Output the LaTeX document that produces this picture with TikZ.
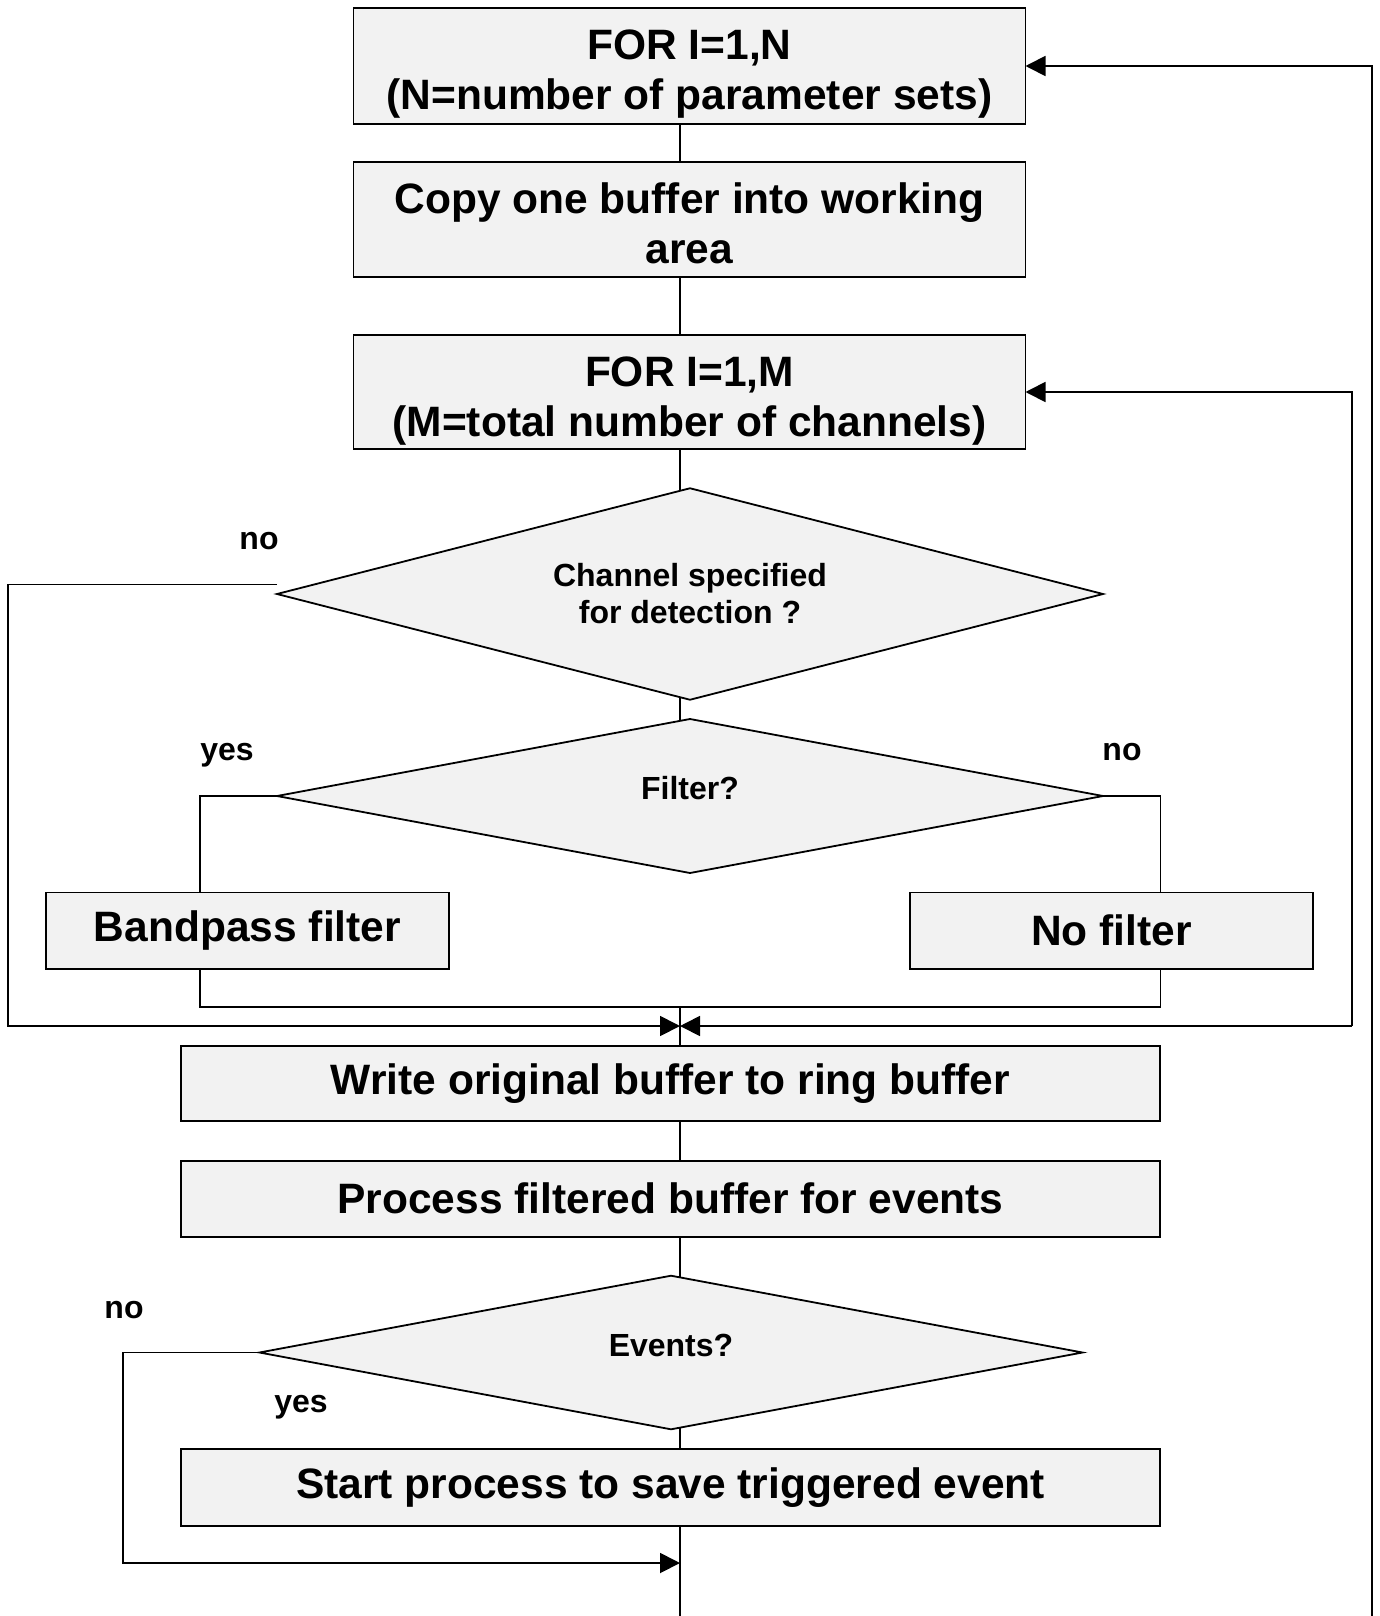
\documentclass[tikz,border=0pt]{standalone}
\usepackage{fontspec}
\setmainfont{Liberation Sans}
\usetikzlibrary{shapes.geometric,arrows.meta,calc,backgrounds}
\definecolor{boxgray}{HTML}{F2F2F2}
\begin{document}
\begin{tikzpicture}[x=0.5pt,y=-0.5pt,
  box/.style={draw,line width=0.9pt,fill=boxgray,inner sep=0pt,outer sep=0pt,align=center,font=\bfseries\fontsize{21.25}{24.75}\selectfont},
  boxtxt/.style={inner sep=0pt,align=center,font=\bfseries\fontsize{21.25}{24.75}\selectfont},
  dec/.style={diamond,draw,line width=0.9pt,fill=boxgray,inner sep=0pt,outer sep=0pt,align=center,font=\bfseries\fontsize{16}{18.5}\selectfont},
  lbl/.style={font=\bfseries\fontsize{16}{18.5}\selectfont,inner sep=0pt},
  conn/.style={line width=0.9pt},
  arr/.style={conn,-{Triangle[length=10pt,width=10pt]}}]
\useasboundingbox (0,0) rectangle (1380,1616);

\node[box,minimum width=336pt,minimum height=58pt] (b1) at (689.5,66) {};
\node[boxtxt] (t1) at ($(b1.center)+(0,8)$) {FOR I=1,N\\(N=number of parameter sets)};
\node[box,minimum width=336pt,minimum height=57.5pt] (b2) at (689.5,219.5) {};
\node[boxtxt] (t2) at ($(b2.center)+(0,4)$) {Copy one buffer into working\\area};
\node[box,minimum width=336pt,minimum height=57pt] (b3) at (689.5,392) {};
\node[boxtxt] (t3) at ($(b3.center)+(0,9)$) {FOR I=1,M\\(M=total number of channels)};
\node[dec,shape aspect=3.9,minimum width=413pt,minimum height=105.75pt] (d1) at (690,594) {Channel specified\\for detection ?};
\node[dec,shape aspect=5.3,minimum width=413pt,minimum height=77pt] (d2) at (690,796) {\raisebox{8pt}{Filter?}};
\node[box,minimum width=201.5pt,minimum height=38.25pt] (bp) at (247.5,930.75) {Bandpass filter};
\node[box,minimum width=201.5pt,minimum height=38.25pt] (nf) at (1111.5,930.75) {\raisebox{1pt}{No filter}};
\node[box,minimum width=489.5pt,minimum height=37.5pt] (b4) at (670.5,1083.5) {\raisebox{-1.5pt}{Write original buffer to ring buffer}};
\node[box,minimum width=489.5pt,minimum height=38pt] (b5) at (670.5,1199) {\raisebox{1pt}{Process filtered buffer for events}};
\node[dec,shape aspect=5.3,minimum width=411.5pt,minimum height=76.8pt] (d3) at (671,1352.5) {\raisebox{7pt}{Events?}};
\node[box,minimum width=489.5pt,minimum height=38.5pt] (b6) at (670.5,1487.5) {\raisebox{-1pt}{Start process to save triggered event}};

\node[lbl] (l1) at (259,541) {no};
\node[lbl] (l2) at (227,755) {yes};
\node[lbl] (l3) at (1122,752) {no};
\node[lbl] (l4) at (124,1310) {no};
\node[lbl] (l5) at (301,1407) {yes};

\begin{pgfonlayer}{background}
\coordinate (mx) at (680,0);
\coordinate (bpx) at (200,0);
\coordinate (nfx) at (1160.5,0);
\coordinate (lx) at (8,0);
\coordinate (rx) at (1352,0);
\coordinate (ox) at (1372,0);
\coordinate (ex) at (123,0);
\coordinate (jy) at (0,1006.7);
\coordinate (ay) at (0,1026);
\coordinate (ey) at (0,1563);
\coordinate (bot) at (0,1616);
% main line
\draw[conn] (mx|-b1.center) -- (mx|-b2.center);
\draw[conn] (mx|-b2.center) -- (mx|-b3.center);
\draw[conn] (mx|-b3.center) -- (mx|-d1.center);
\draw[conn] (mx|-d1.center) -- (mx|-d2.center);
\draw[conn] (mx|-jy) -- (mx|-b4.center);
\draw[conn] (mx|-b4.center) -- (mx|-b5.center);
\draw[conn] (mx|-b5.center) -- (mx|-d3.center);
\draw[conn] (mx|-d3.center) -- (mx|-b6.center);
\draw[conn] (mx|-b6.center) -- (mx|-bot);
% filter branches
\draw[conn] (d2.west) -| (bpx|-bp.center);
\draw[conn] (d2.east) -| (nfx|-nf.center);
\draw[conn] (bpx|-bp.center) |- (nfx|-jy) -- (nfx|-nf.center);
% no-detection bypass
\draw[arr] ($(d1.west)+(0,-9.5)$) -| (lx|-ay) -- (mx|-ay);
% loops
\draw[arr] (rx|-ay) -- (mx|-ay);
\draw[arr] (rx|-ay) |- (b3.east);
\draw[arr] (ox|-bot) |- (b1.east);
% events no
\draw[arr] (d3.west) -| (ex|-ey) -- (mx|-ey);
\end{pgfonlayer}
\end{tikzpicture}
\end{document}
